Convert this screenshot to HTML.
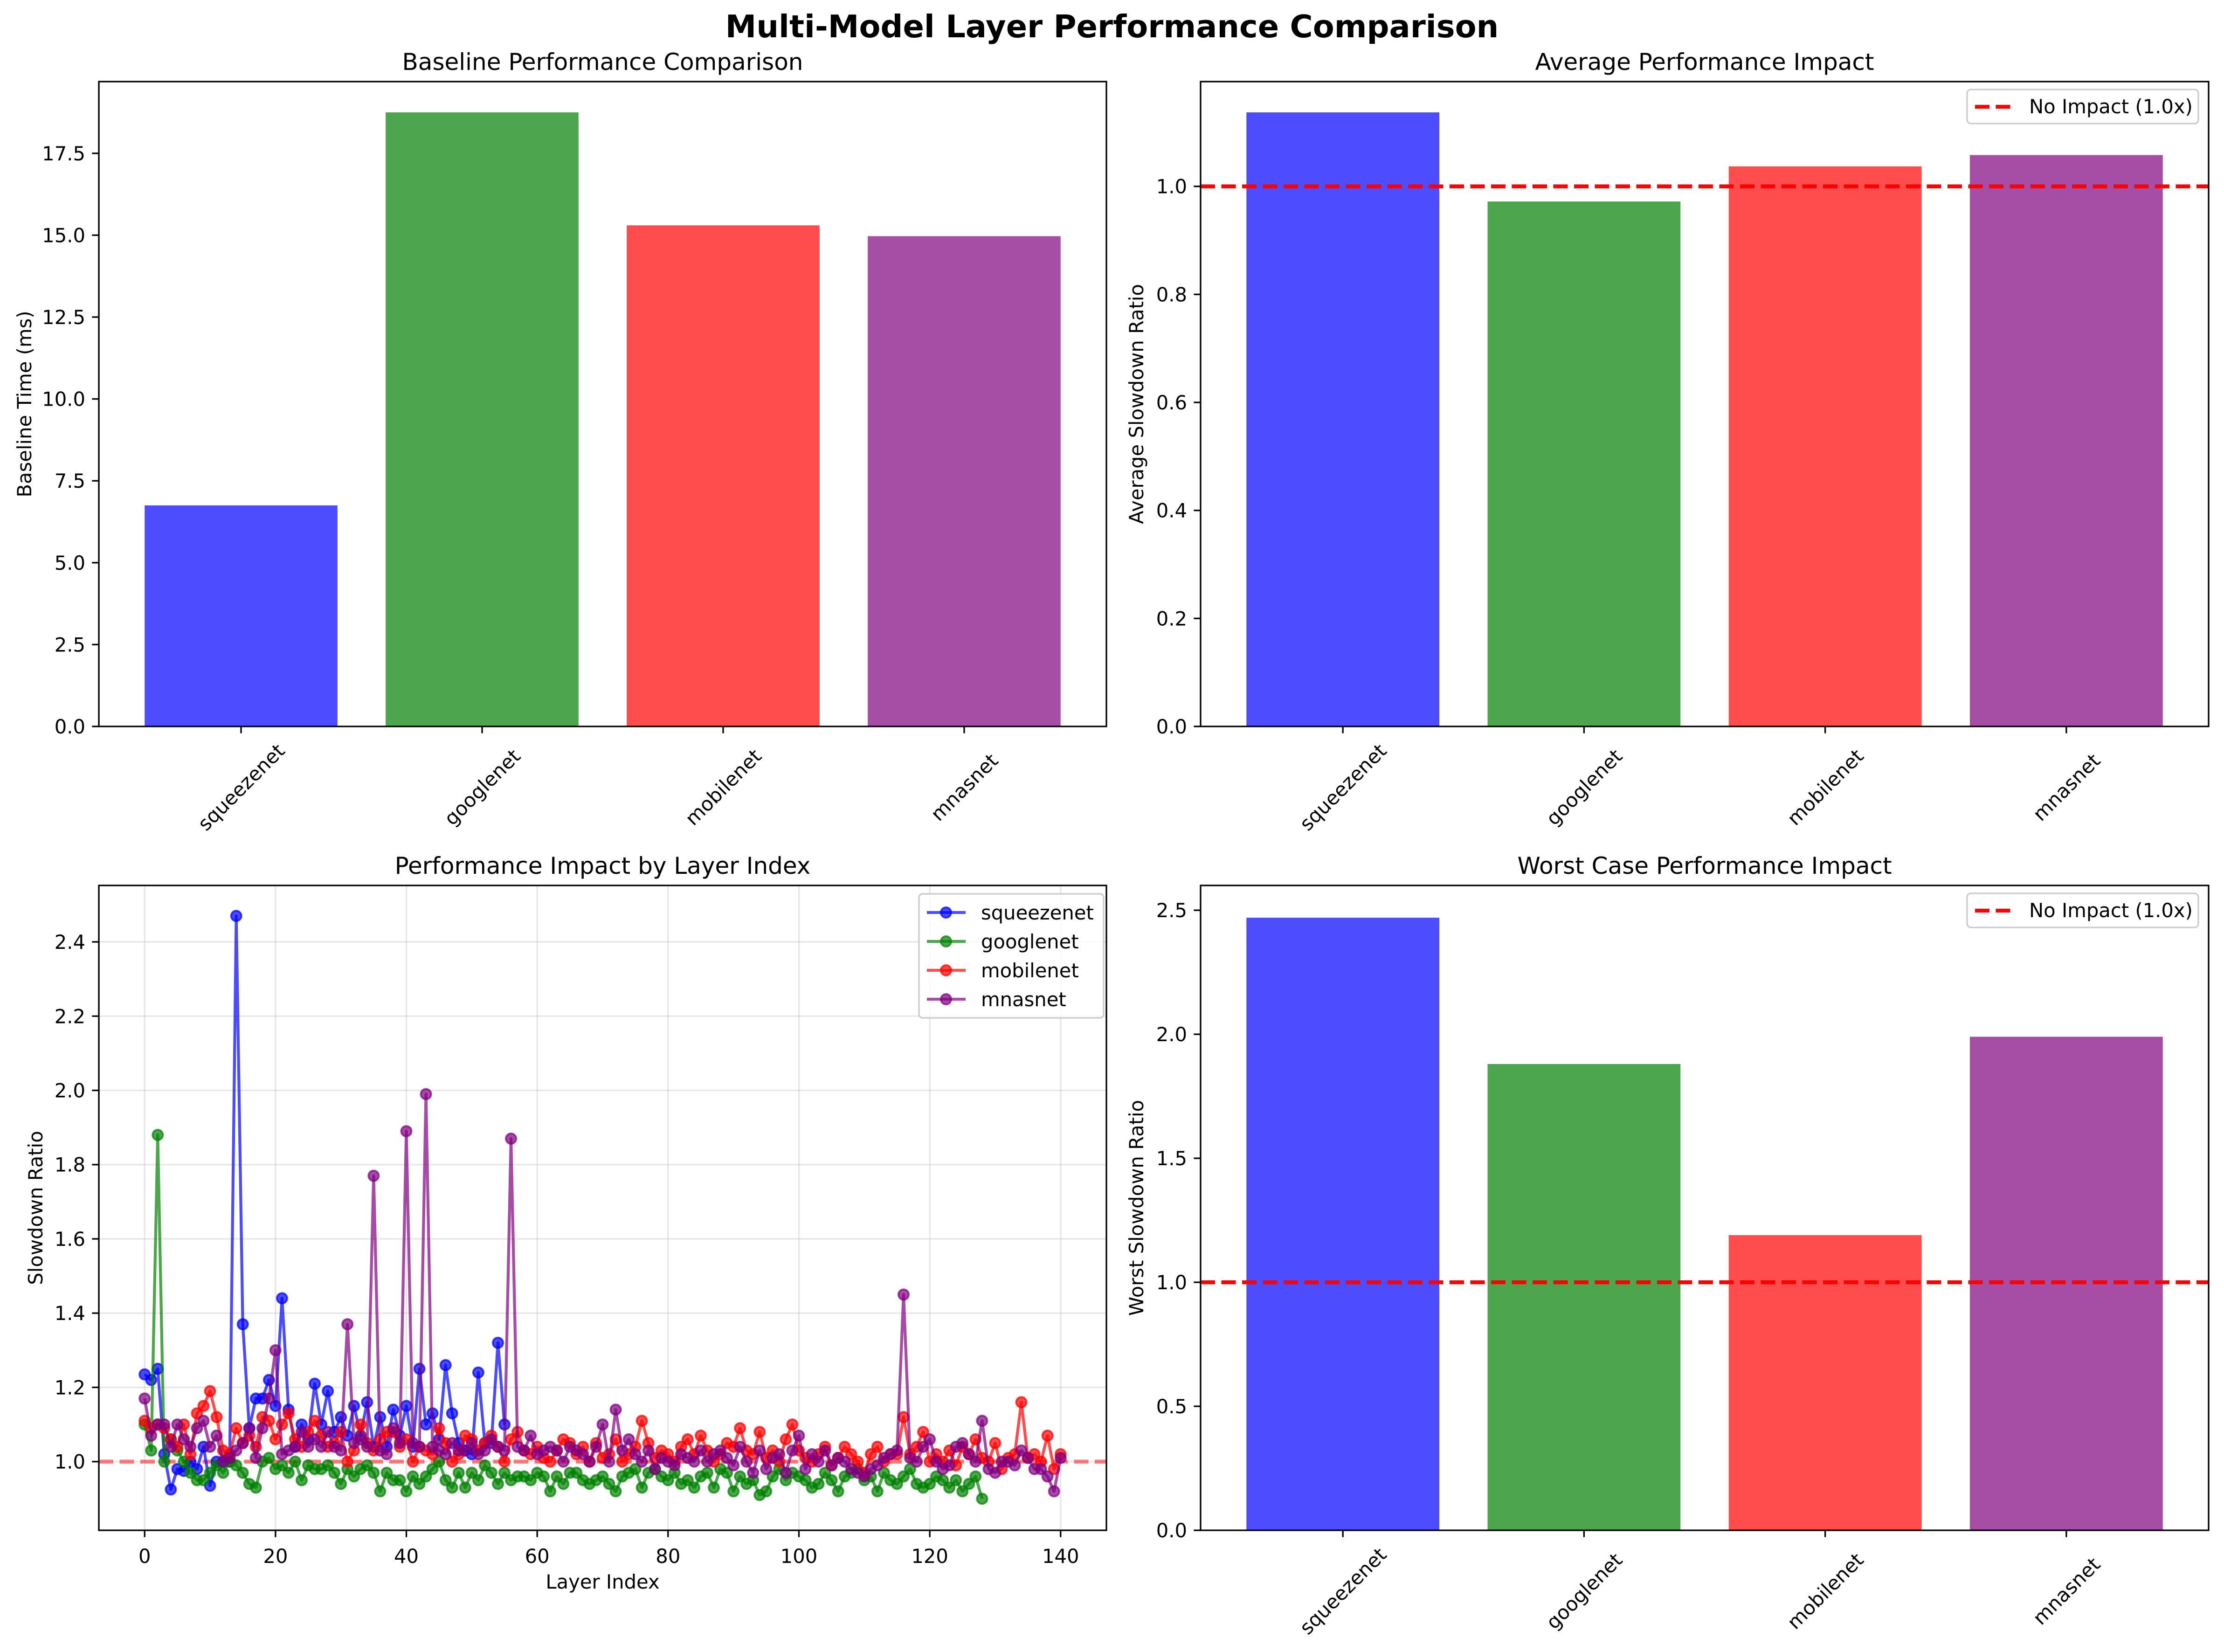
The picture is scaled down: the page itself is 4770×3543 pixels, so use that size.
<!DOCTYPE html>
<html><head><meta charset="utf-8"><style>
html,body{margin:0;padding:0;background:#fff}
svg{display:block}
text{font-family:"DejaVu Sans","Liberation Sans",sans-serif;fill:#000}
</style></head><body>
<svg id="fig" xmlns="http://www.w3.org/2000/svg" width="4770" height="3543" viewBox="0 0 4770 3543">
<text x="2385" y="80" font-size="67" font-weight="bold" text-anchor="middle">Multi-Model Layer Performance Comparison</text>
</svg>
<script>
const models = ["squeezenet","googlenet","mobilenet","mnasnet"];
const baselineTimes = [6.75, 18.75, 15.3, 14.97];
const avgSlowdown = [1.137, 0.972, 1.037, 1.058];
const worstSlowdown = [2.47, 1.88, 1.19, 1.99];
const baselineTicks = ["0.0","2.5","5.0","7.5","10.0","12.5","15.0","17.5"];
const avgTicks = ["0.0","0.2","0.4","0.6","0.8","1.0"];
const worstTicks = ["0.0","0.5","1.0","1.5","2.0","2.5"];
const layerXTicks = ["0","20","40","60","80","100","120","140"];
const layerYTicks = ["1.0","1.2","1.4","1.6","1.8","2.0","2.2","2.4"];
const squeezenetRatios = [1.235,1.22,1.25,1.02,0.925,0.98,0.975,1.0,0.98,1.04,0.935,1.0,1.0,1.0,2.47,1.37,1.09,1.17,1.17,1.22,1.15,1.44,1.14,1.04,1.1,1.06,1.21,1.1,1.19,1.08,1.12,1.07,1.15,1.07,1.16,1.04,1.12,1.04,1.14,1.07,1.15,1.04,1.25,1.1,1.13,1.06,1.26,1.13,1.05,1.03,1.02,1.24,1.05,1.05,1.32,1.1];
const googlenetRatios = [1.10,1.03,1.88,1.00,1.06,1.03,1.00,0.97,0.95,0.95,0.97,0.99,0.97,1.00,0.99,0.97,0.94,0.93,1.00,1.01,0.98,0.99,0.97,1.00,0.95,0.99,0.98,0.98,0.99,0.97,0.94,0.98,0.96,0.98,0.99,0.97,0.92,0.97,0.95,0.95,0.92,0.96,0.94,0.96,0.98,1.00,0.95,0.93,0.97,0.93,0.97,0.95,0.99,0.97,0.94,0.97,0.95,0.96,0.96,0.95,0.97,0.96,0.92,0.96,0.94,0.97,0.97,0.95,0.94,0.95,0.96,0.94,0.92,0.96,0.97,0.98,0.93,0.97,0.98,0.96,0.95,0.97,0.94,0.95,0.93,0.96,0.97,0.93,0.98,0.97,0.92,0.96,0.94,0.95,0.91,0.92,0.96,0.98,0.95,0.97,0.96,0.95,0.93,0.94,0.97,0.95,0.92,0.96,0.97,0.98,0.95,0.96,0.92,0.97,0.95,0.94,0.96,0.98,0.94,0.93,0.94,0.96,0.95,0.93,0.95,0.92,0.94,0.96,0.90];
const mobilenetRatios = [1.11,1.09,1.10,1.09,1.06,1.04,1.10,1.02,1.13,1.15,1.19,1.12,1.03,1.02,1.09,1.05,1.07,1.04,1.12,1.11,1.06,1.10,1.13,1.06,1.04,1.08,1.11,1.07,1.04,1.05,1.08,1.00,1.03,1.10,1.05,1.03,1.06,1.08,1.08,1.04,1.06,1.00,1.04,1.03,1.02,1.09,1.05,1.00,1.02,1.07,1.06,1.03,1.05,1.07,1.04,1.00,1.06,1.08,1.03,1.02,1.04,1.01,1.00,1.03,1.06,1.05,1.02,1.04,1.00,1.05,1.01,1.02,1.06,1.00,1.02,1.04,1.11,1.05,1.01,1.03,1.02,1.00,1.04,1.06,1.02,1.07,1.03,1.00,1.02,1.05,1.04,1.09,1.03,1.02,1.08,1.01,1.03,1.00,1.06,1.10,1.03,1.01,1.00,1.02,1.04,0.99,1.01,1.04,1.02,1.00,0.97,1.02,1.04,1.00,1.02,1.02,1.12,1.02,1.04,1.08,1.00,1.02,1.00,1.03,0.99,1.04,1.02,1.06,1.01,1.00,1.05,0.98,1.01,1.02,1.16,1.01,1.02,1.00,1.07,0.98,1.02];
const mnasnetRatios = [1.17,1.07,1.10,1.10,1.04,1.10,1.06,1.04,1.09,1.11,1.04,1.07,1.00,1.01,1.03,1.05,1.09,1.01,1.09,1.17,1.30,1.02,1.03,1.04,1.08,1.04,1.06,1.04,1.08,1.04,1.03,1.37,1.05,1.06,1.04,1.77,1.03,1.02,1.09,1.05,1.89,1.05,1.04,1.99,1.04,1.03,1.02,1.05,1.03,1.03,1.05,1.02,1.03,1.06,1.04,1.03,1.87,1.04,1.03,1.07,1.02,1.03,1.04,1.03,1.00,1.04,1.03,1.02,1.00,1.04,1.10,1.00,1.14,1.03,1.06,1.02,1.00,1.03,0.98,1.01,1.00,0.99,1.02,1.01,1.00,1.03,1.00,1.02,1.03,1.01,0.99,1.04,1.00,0.97,1.03,0.98,1.01,1.02,0.97,1.03,1.07,0.98,1.02,1.00,1.03,0.99,1.01,1.00,0.98,0.97,0.96,0.98,0.99,1.01,1.02,1.03,1.45,1.01,1.00,1.04,1.06,1.00,0.98,0.99,1.04,1.05,1.02,1.00,1.11,0.98,0.97,1.00,1.00,0.99,1.03,1.01,0.98,0.98,0.96,0.92,1.01];

const NS = "http://www.w3.org/2000/svg";
const svg = document.getElementById("fig");
const colors = ["#4d4dff","#4da64d","#ff4d4d","#a64da6"];
const solid = ["#0000ff","#008000","#ff0000","#800080"];
function mk(tag, attrs, parent){const e=document.createElementNS(NS,tag);for(const k in attrs)e.setAttribute(k,attrs[k]);(parent||svg).appendChild(e);return e;}
function txt(s, attrs, parent){const e=mk("text",attrs,parent);e.textContent=s;return e;}

function barPanel(name, L, R, T, B, values, ymax, ticks, tickStep, title, ylabel, ylabelX, refLine){
  const g = mk("g",{});
  
  
  const xs = v => L + (v + 0.59) / 4.18 * (R - L);
  const ys = v => B - v / ymax * (B - T);
  values.forEach((v,i)=>{
    const r = mk("rect",{x:xs(i-0.4),y:ys(v),width:xs(i+0.4)-xs(i-0.4),height:B-ys(v),fill:colors[i]},g);
    
    
  });
  if(refLine){
    const l = mk("line",{x1:L,x2:R,y1:ys(1),y2:ys(1),stroke:"#ff0000","stroke-width":8.3,"stroke-dasharray":"31 13.5"},g);
    
    
  }
  const frame = mk("rect",{x:L,y:T,width:R-L,height:B-T,fill:"none",stroke:"#000","stroke-width":3.3},g);
  
  
  ticks.forEach((t,i)=>{
    const y = ys(i*tickStep);
    mk("line",{x1:L-14.6,x2:L,y1:y,y2:y,stroke:"#000","stroke-width":3.3},g);
    const tl = txt(t,{x:L-29,y:y+15,"font-size":41.7,"text-anchor":"end"},g);
    
    
  });
  models.forEach((m,i)=>{
    const x = xs(i);
    mk("line",{x1:x,x2:x,y1:B,y2:B+14.6,stroke:"#000","stroke-width":3.3},g);
    const cy = B + 130;
    const tl = txt(m,{x:x,y:cy+15,"font-size":41.7,"text-anchor":"middle",transform:`rotate(-45 ${x} ${cy})`},g);
    
    
  });
  const tt = txt(title,{x:(L+R)/2,y:T-25,"font-size":50,"text-anchor":"middle"},g);
  
  
  const yl = txt(ylabel,{x:ylabelX,y:(T+B)/2,"font-size":41.7,"text-anchor":"middle",transform:`rotate(-90 ${ylabelX} ${(T+B)/2})`,dy:15},g);
  
  
  if(refLine){
    const lg = mk("g",{},g);
    
    
    const lx = R - 518, ly = T + 17;
    mk("rect",{x:lx,y:ly,width:496,height:73,rx:8,fill:"#fff","fill-opacity":0.8,stroke:"#ccc","stroke-width":3.3},lg);
    mk("line",{x1:lx+17,x2:lx+100,y1:ly+37,y2:ly+37,stroke:"#ff0000","stroke-width":8.3,"stroke-dasharray":"31 13.5"},lg);
    const le = txt("No Impact (1.0x)",{x:lx+133,y:ly+51,"font-size":41.7},lg);
    
    
  }
}

barPanel("baseline-chart",212,2373,175,1558,baselineTimes,19.69,baselineTicks,2.5,"Baseline Performance Comparison","Baseline Time (ms)",52,false);
barPanel("average-impact-chart",2575,4737,175,1558,avgSlowdown,1.194,avgTicks,0.2,"Average Performance Impact","Average Slowdown Ratio",2437,true);
barPanel("worst-impact-chart",2575,4737,1899,3282,worstSlowdown,2.6,worstTicks,0.5,"Worst Case Performance Impact","Worst Slowdown Ratio",2437,true);

// Line chart
(function(){
  const L=212,R=2373,T=1899,B=3282, xmin=-7, xmax=147, ymin=0.815, ymax=2.552;
  const xs = v => L + (v - xmin)/(xmax - xmin)*(R-L);
  const ys = v => B - (v - ymin)/(ymax - ymin)*(B-T);
  const g = mk("g",{});
  
  
  const defs = mk("clipPath",{id:"clipLine"},g);
  mk("rect",{x:L,y:T,width:R-L,height:B-T},defs);
  layerXTicks.forEach(t=>{
    const x = xs(+t);
    mk("line",{x1:x,x2:x,y1:T,y2:B,stroke:"#b0b0b0","stroke-opacity":0.3,"stroke-width":3.3},g);
  });
  layerYTicks.forEach(t=>{
    const y = ys(+t);
    mk("line",{x1:L,x2:R,y1:y,y2:y,stroke:"#b0b0b0","stroke-opacity":0.3,"stroke-width":3.3},g);
  });
  const ref = mk("line",{x1:L,x2:R,y1:ys(1),y2:ys(1),stroke:"#ff0000","stroke-opacity":0.5,"stroke-width":8.3,"stroke-dasharray":"31 13.5"},g);
  
  
  const series = [squeezenetRatios, googlenetRatios, mobilenetRatios, mnasnetRatios];
  series.forEach((arr,si)=>{
    const sg = mk("g",{"clip-path":"url(#clipLine)"},g);
    
    
    const pts = arr.map((v,i)=>xs(i).toFixed(1)+","+ys(v).toFixed(1)).join(" ");
    const pl = mk("polyline",{points:pts,fill:"none",stroke:solid[si],"stroke-opacity":0.7,"stroke-width":6.25,"stroke-linejoin":"round"},sg);
    
    
    arr.forEach((v,i)=>{
      const c = mk("circle",{cx:xs(i),cy:ys(v),r:11,fill:solid[si],"fill-opacity":0.7,stroke:solid[si],"stroke-opacity":0.7,"stroke-width":4},sg);
      
      
    });
  });
  const frame = mk("rect",{x:L,y:T,width:R-L,height:B-T,fill:"none",stroke:"#000","stroke-width":3.3},g);
  
  
  layerXTicks.forEach(t=>{
    const x = xs(+t);
    mk("line",{x1:x,x2:x,y1:B,y2:B+14.6,stroke:"#000","stroke-width":3.3},g);
    const tl = txt(t,{x:x,y:B+70,"font-size":41.7,"text-anchor":"middle"},g);
    
    
  });
  layerYTicks.forEach(t=>{
    const y = ys(+t);
    mk("line",{x1:L-14.6,x2:L,y1:y,y2:y,stroke:"#000","stroke-width":3.3},g);
    const tl = txt(t,{x:L-29,y:y+15,"font-size":41.7,"text-anchor":"end"},g);
    
    
  });
  const tt = txt("Performance Impact by Layer Index",{x:(L+R)/2,y:T-25,"font-size":50,"text-anchor":"middle"},g);
  
  
  const xl = txt("Layer Index",{x:(L+R)/2,y:3407,"font-size":41.7,"text-anchor":"middle"},g);
  
  
  const yl = txt("Slowdown Ratio",{x:76,y:(T+B)/2,dy:15,"font-size":41.7,"text-anchor":"middle",transform:`rotate(-90 76 ${(T+B)/2})`},g);
  
  
  const lg = mk("g",{},g);
  
  
  const lx=1971, ly=1917;
  mk("rect",{x:lx,y:ly,width:396,height:266,rx:8,fill:"#fff","fill-opacity":0.8,stroke:"#ccc","stroke-width":3.3},lg);
  models.forEach((m,i)=>{
    const y = ly + 40 + i*62;
    mk("line",{x1:lx+17,x2:lx+100,y1:y,y2:y,stroke:solid[i],"stroke-opacity":0.7,"stroke-width":6.25},lg);
    mk("circle",{cx:lx+58,cy:y,r:11,fill:solid[i],"fill-opacity":0.7,stroke:solid[i],"stroke-opacity":0.7,"stroke-width":4},lg);
    const le = txt(m,{x:lx+133,y:y+15,"font-size":41.7},lg);
    
    
  });
})();
</script>
</body></html>
